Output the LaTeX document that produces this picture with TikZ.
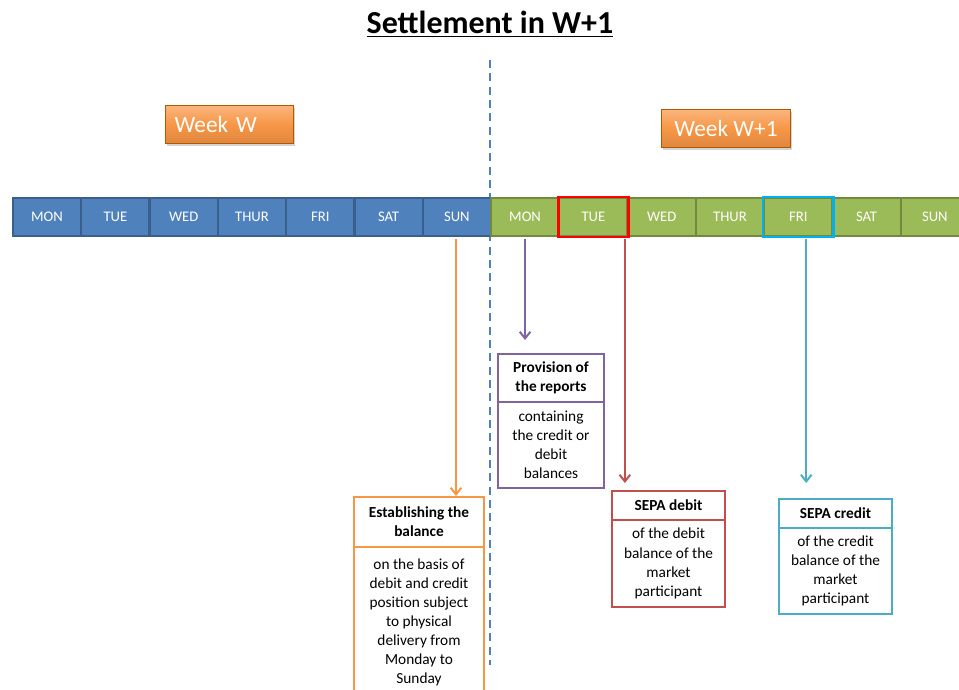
\documentclass[tikz,border=0pt]{standalone}
\usepackage{fontspec}
\setmainfont{Carlito}
\usetikzlibrary{arrows.meta,shadows}
\definecolor{dayblue}{HTML}{4F81BD}
\definecolor{dayblueb}{HTML}{3A5F8C}
\definecolor{daygreen}{HTML}{9BBB59}
\definecolor{daygreenb}{HTML}{728A40}
\definecolor{hired}{HTML}{FF0000}
\definecolor{hicyan}{HTML}{00B0F0}
\definecolor{corange}{HTML}{F79646}
\definecolor{cpurple}{HTML}{8064A2}
\definecolor{cred}{HTML}{C0504D}
\definecolor{ccyan}{HTML}{4BACC6}
\definecolor{dashblue}{HTML}{4F81BD}
\tikzset{
  daycell/.style={draw=#1, line width=1.6pt, minimum width={68*0.75pt}, minimum height={38*0.75pt}, inner sep=0pt, text=white, font=\fontsize{11}{13}\selectfont},
  weekbox/.style={draw=orange!70!black, line width=0.8pt, top color=corange!70!white, bottom color=corange!90!black, middle color=corange, text=white, font=\fontsize{17.5}{20}\selectfont, minimum height={38*0.75pt}, inner sep=0pt, drop shadow={opacity=0.35, shadow xshift=1pt, shadow yshift=-2pt}},
  hdrbox/.style={draw=#1, line width=1.8pt, outer sep=0pt, align=center, inner sep=0pt, font=\bfseries\fontsize{11.5}{14.3}\selectfont},
  bodybox/.style={draw=#1, line width=1.8pt, outer sep=0pt, align=center, inner sep=0pt, font=\fontsize{11.5}{14.3}\selectfont},
  conn/.style={draw=#1, line width=1.5pt, -{Straight Barb[length=5pt,width=8pt]}},
}
\begin{document}
\begin{tikzpicture}[x=0.75pt,y=-0.75pt]
\useasboundingbox (0,0) rectangle (959,689);
\begin{scope}
\clip (0,0) rectangle (959,689);
% title
\node[font=\bfseries\fontsize{24}{28}\selectfont] (title) at (490,24) {\underline{Settlement in W+1}};
% dashed separator
\coordinate (dtop) at (490,60);
\coordinate (dbot) at (490,665);
\draw[dashblue, line width=1.6pt, dash pattern=on 6pt off 4pt] (dtop) -- (dbot);
% week labels
\node[weekbox, minimum width={128*0.75pt}, anchor=north west, text width={110*0.75pt}, align=left] (weekw) at (165,105) {Week W};
\node[weekbox, minimum width={129*0.75pt}, anchor=north west] (weekw1) at (661,109) {Week W+1};
% days week W
\foreach \d/\n [count=\i from 0] in {MON/bm,TUE/bt,WED/bw,THUR/bh,FRI/bf,SAT/bs,SUN/bu}{
  \node[daycell=dayblueb, fill=dayblue, anchor=north west] (\n) at (12+68.3*\i,197) {\d};
}
% days week W+1
\foreach \d/\n [count=\i from 0] in {MON/gm,TUE/gt,WED/gw,THUR/gh,FRI/gf,SAT/gs,SUN/gu}{
  \node[daycell=daygreenb, fill=daygreen, anchor=north west] (\n) at (490+68.3*\i,197) {\d};
}
\draw[hired, line width=1.8pt] (gt.south west) rectangle (gt.north east);
\draw[hicyan, line width=1.8pt] (gf.south west) rectangle (gf.north east);
% Establishing the balance
\node[hdrbox=corange, minimum width={130*0.75pt}, minimum height={50*0.75pt}] (esth) at (419,522) {Establishing the\\balance};
\node[bodybox=corange, minimum width={130*0.75pt}, minimum height={160*0.75pt}, anchor=north] (estb) at (esth.south) {};
\node[align=center, font=\fontsize{11.5}{14.3}\selectfont, anchor=north] (estt) at (419,554) {on the basis of\\debit and credit\\position subject\\to physical\\delivery from\\Monday to\\Sunday};
% Provision
\node[hdrbox=cpurple, minimum width={106*0.75pt}, minimum height={48*0.75pt}] (provh) at (551,378) {Provision of\\the reports};
\node[bodybox=cpurple, minimum width={106*0.75pt}, minimum height={86*0.75pt}, anchor=north] (provb) at (provh.south) {containing\\the credit or\\debit\\balances};
% SEPA debit
\node[hdrbox=cred, minimum width={113*0.75pt}, minimum height={29*0.75pt}] (debh) at (668.5,505.5) {SEPA debit};
\node[bodybox=cred, minimum width={113*0.75pt}, minimum height={87*0.75pt}, anchor=north] (debb) at (debh.south) {of the debit\\balance of the\\market\\participant};
% SEPA credit
\node[hdrbox=ccyan, minimum width={113*0.75pt}, minimum height={29*0.75pt}] (credh) at (835.5,513.5) {SEPA credit};
\node[bodybox=ccyan, minimum width={113*0.75pt}, minimum height={86*0.75pt}, anchor=north] (credb) at (credh.south) {of the credit\\balance of the\\market\\participant};
% connectors
\draw[conn=corange] ([yshift={-2*0.75pt}]bu.south -| 456,0) -- ([yshift={1*0.75pt}]456,0 |- esth.north);
\draw[conn=cpurple] ([yshift={-2*0.75pt}]gm.south) -- ([yshift={14*0.75pt}]gm.south |- provh.north);
\draw[conn=cred] ([xshift={31.5*0.75pt}, yshift={-2*0.75pt}]gt.south) -- ([xshift={31.5*0.75pt}, yshift={8*0.75pt}]gt.south |- debh.north);
\draw[conn=ccyan] ([xshift={8*0.75pt}, yshift={-2*0.75pt}]gf.south) -- ([xshift={8*0.75pt}, yshift={16*0.75pt}]gf.south |- credh.north);
\end{scope}
\end{tikzpicture}
\end{document}
